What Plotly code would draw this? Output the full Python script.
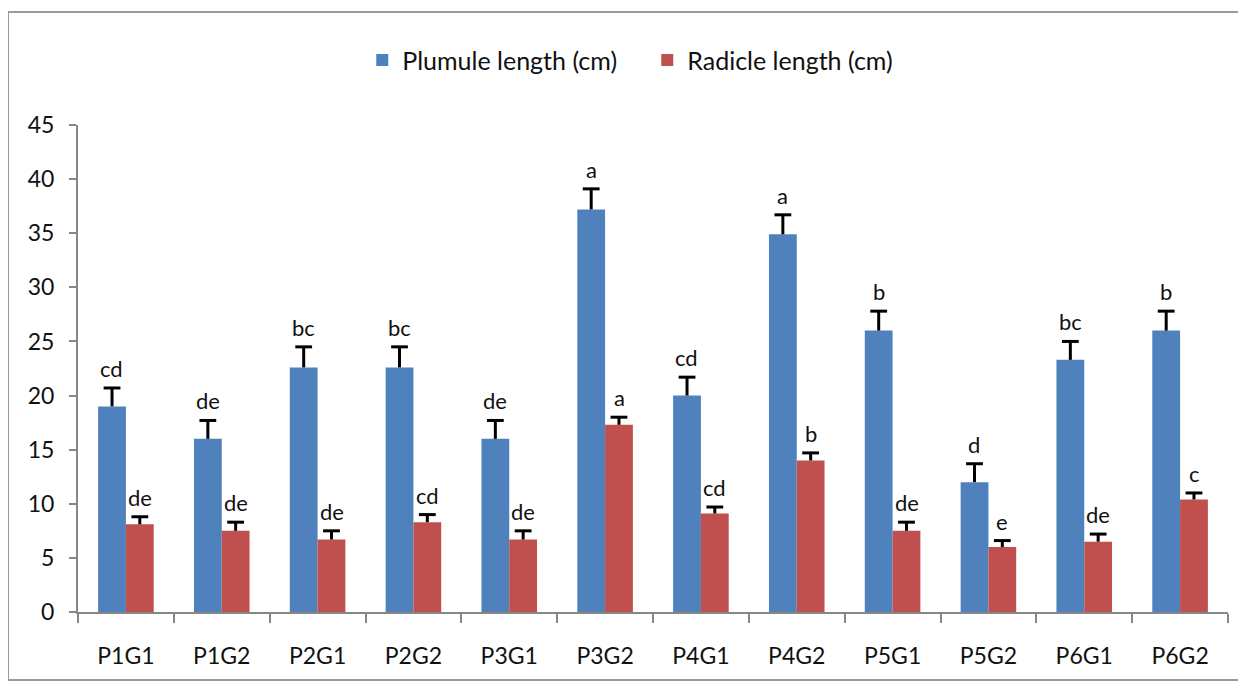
import plotly.graph_objects as go

categories = ["P1G1", "P1G2", "P2G1", "P2G2", "P3G1", "P3G2",
              "P4G1", "P4G2", "P5G1", "P5G2", "P6G1", "P6G2"]
plumule = [19.0, 16.0, 22.6, 22.6, 16.0, 37.2, 20.0, 34.9, 26.0, 12.0, 23.3, 26.0]
plumule_err = [1.7, 1.7, 1.9, 1.9, 1.7, 1.9, 1.7, 1.8, 1.8, 1.7, 1.7, 1.8]
radicle = [8.1, 7.5, 6.7, 8.3, 6.7, 17.3, 9.1, 14.0, 7.5, 6.0, 6.5, 10.4]
radicle_err = [0.7, 0.8, 0.8, 0.7, 0.8, 0.7, 0.6, 0.7, 0.8, 0.6, 0.7, 0.6]
plumule_letters = ["cd", "de", "bc", "bc", "de", "a", "cd", "a", "b", "d", "bc", "b"]
radicle_letters = ["de", "de", "de", "cd", "de", "a", "cd", "b", "de", "e", "de", "c"]

FONT = "Lato"
blue = "#4F81BD"
red = "#C0504D"
GAP = 0.42

fig = go.Figure()
series = [("Plumule length (cm)", plumule, plumule_err, blue, "g1"),
          ("Radicle length (cm)", radicle, radicle_err, red, "g2")]
for name, vals, errs, col, grp in series:
    fig.add_trace(go.Bar(
        x=categories, y=vals, name=name, offsetgroup=grp,
        marker=dict(color=col, line=dict(width=0)),
        error_y=dict(type="data", array=errs, arrayminus=[0]*len(vals),
                     symmetric=False, color="black", thickness=3, width=0),
    ))
for name, vals, errs, col, grp in series:
    fig.add_trace(go.Scatter(
        x=categories, y=[v + e for v, e in zip(vals, errs)], mode="markers",
        offsetgroup=grp, showlegend=False, hoverinfo="skip",
        marker=dict(symbol="line-ew", size=12, color="black",
                    line=dict(color="black", width=3)),
    ))

annotations = []
for i, c in enumerate(categories):
    annotations.append(dict(x=c, y=plumule[i] + plumule_err[i], text=plumule_letters[i],
                            xshift=-14, yshift=4, yanchor="bottom", showarrow=False,
                            font=dict(family=FONT, size=22, color="#111")))
    annotations.append(dict(x=c, y=radicle[i] + radicle_err[i], text=radicle_letters[i],
                            xshift=14, yshift=4, yanchor="bottom", showarrow=False,
                            font=dict(family=FONT, size=22, color="#111")))

fig.update_layout(
    width=1238, height=678,
    margin=dict(l=70, r=18, t=117, b=74),
    paper_bgcolor="white", plot_bgcolor="white",
    barmode="group", bargap=GAP, bargroupgap=0,
    scattermode="group", scattergap=GAP,
    font=dict(family=FONT, size=22, color="#111"),
    legend=dict(orientation="h", x=0.495, xanchor="center", y=1.133, yanchor="middle",
                font=dict(family=FONT, size=25), traceorder="normal",
                entrywidth=240, entrywidthmode="pixels"),
    annotations=annotations,
    xaxis=dict(showline=True, linecolor="#868686", linewidth=2,
               ticks="outside", tickson="boundaries", ticklen=9, tickcolor="#868686",
               tickwidth=2, showgrid=False, tickfont=dict(family=FONT, size=23),
               ticklabelstandoff=22),
    yaxis=dict(range=[0, 45], dtick=5, showline=True, linecolor="#868686", linewidth=2,
               ticks="outside", ticklen=7, tickcolor="#868686", tickwidth=2,
               showgrid=False, zeroline=False, tickfont=dict(family=FONT, size=23),
               ticklabelstandoff=10),
    shapes=[dict(type="rect", xref="paper", yref="paper",
                 x0=-70/1150, x1=1+12/1150, y0=-68/487, y1=1+113/487,
                 line=dict(color="#9a9a9a", width=2), fillcolor="rgba(0,0,0,0)")],
)

fig.write_html("out.html")
